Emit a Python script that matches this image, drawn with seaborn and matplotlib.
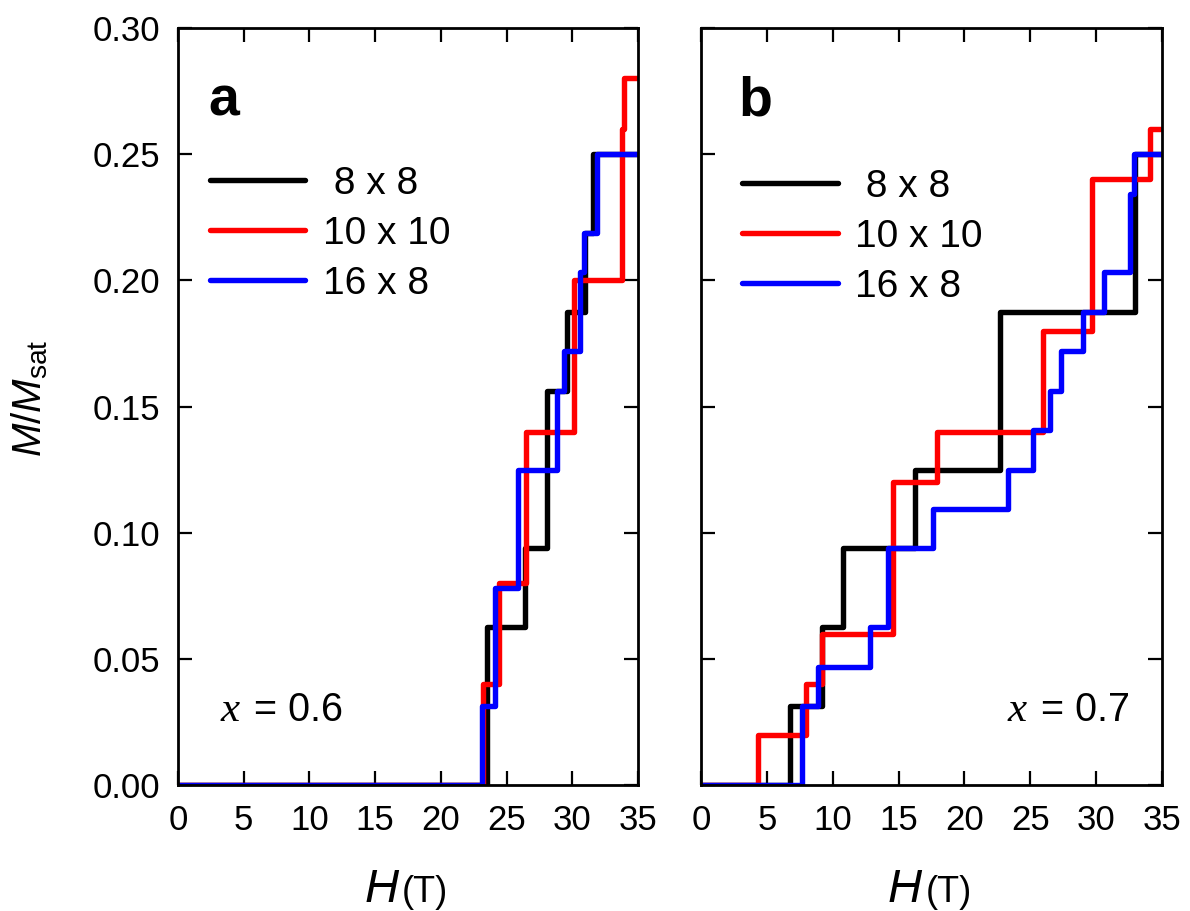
import numpy as np
import pandas as pd
import matplotlib
matplotlib.use("Agg")
import matplotlib.pyplot as plt
from matplotlib.ticker import FormatStrFormatter
import seaborn as sns

# ---------------- data ----------------
sizes = ["8 x 8", "10 x 10", "16 x 8"]
legend_labels = [" 8 x 8", "10 x 10", "16 x 8"]
colors = ["#000000", "#ff0000", "#0000ff"]

# panel a  (x = 0.6): field where each plateau begins, and its magnetisation
black_a_H = [0, 23.5, 26.4, 28.1, 29.6, 31.0, 31.6, 35]
black_a_M = [0, 0.0625, 0.09375, 0.15625, 0.1875, 0.21875, 0.25, 0.25]
red_a_H = [0, 23.2, 24.4, 26.5, 30.1, 33.76, 33.9, 35]
red_a_M = [0, 0.04, 0.08, 0.14, 0.20, 0.26, 0.28, 0.28]
blue_a_H = [0, 23.1, 24.1, 25.9, 28.8, 29.4, 30.6, 30.9, 31.9, 35]
blue_a_M = [0, 0.03125, 0.078125, 0.125, 0.15625, 0.171875, 0.203125, 0.21875, 0.25, 0.25]

# panel b  (x = 0.7)
black_b_H = [0, 6.75, 9.2, 10.75, 16.25, 22.7, 32.95, 35]
black_b_M = [0, 0.03125, 0.0625, 0.09375, 0.125, 0.1875, 0.25, 0.25]
red_b_H = [0, 4.35, 8.0, 9.2, 14.6, 17.9, 26.0, 29.7, 34.1, 35]
red_b_M = [0, 0.02, 0.04, 0.06, 0.12, 0.14, 0.18, 0.24, 0.26, 0.26]
blue_b_H = [0, 7.65, 8.9, 12.8, 14.2, 17.6, 23.3, 25.2, 26.5, 27.3, 29.0, 30.6, 32.6, 32.9, 35]
blue_b_M = [0, 0.03125, 0.046875, 0.0625, 0.09375, 0.109375, 0.125, 0.140625,
            0.15625, 0.171875, 0.1875, 0.203125, 0.234375, 0.25, 0.25]

x_ticks = [0, 5, 10, 15, 20, 25, 30, 35]
y_ticks = [0.00, 0.05, 0.10, 0.15, 0.20, 0.25, 0.30]
panel_labels = ["a", "b"]
x_values = ["0.6", "0.7"]


def long_frame(series):
    frames = []
    for name, (h, m) in zip(sizes, series):
        frames.append(pd.DataFrame({"H": h, "M": m, "size": name}))
    return pd.concat(frames, ignore_index=True)


df_a = long_frame([(black_a_H, black_a_M), (red_a_H, red_a_M), (blue_a_H, blue_a_M)])
df_b = long_frame([(black_b_H, black_b_M), (red_b_H, red_b_M), (blue_b_H, blue_b_M)])

# ---------------- style ----------------
sns.set_theme(style="ticks")
plt.rcParams["font.family"] = ["Liberation Sans", "DejaVu Sans"]
plt.rcParams["mathtext.fontset"] = "custom"
plt.rcParams["mathtext.rm"] = "Liberation Sans"
plt.rcParams["mathtext.it"] = "Liberation Sans:italic"
plt.rcParams["axes.linewidth"] = 2.0
plt.rcParams["text.color"] = "black"
plt.rcParams["xtick.color"] = "black"
plt.rcParams["ytick.color"] = "black"
plt.rcParams["xtick.labelcolor"] = "black"
plt.rcParams["ytick.labelcolor"] = "black"

fig = plt.figure(figsize=(11.9, 9.11), dpi=100)
ax_a = fig.add_axes([178 / 1190, 1 - 785 / 911, 460 / 1190, 757 / 911])
ax_b = fig.add_axes([701 / 1190, 1 - 785 / 911, 461 / 1190, 757 / 911])

palette = dict(zip(sizes, colors))

for ax, df, lab, xv, show_left in [(ax_a, df_a, "a", "0.6", True), (ax_b, df_b, "b", "0.7", False)]:
    sns.lineplot(data=df, x="H", y="M", hue="size", hue_order=sizes, palette=palette,
                 estimator=None, sort=False, drawstyle="steps-post", linewidth=3.9,
                 legend=False, ax=ax)
    ax.set_xlim(0, 35)
    ax.set_ylim(0, 0.30)
    ax.set_xticks(x_ticks)
    ax.set_yticks(y_ticks)
    ax.yaxis.set_major_formatter(FormatStrFormatter("%.2f"))
    ax.set_xlabel("")
    ax.set_ylabel("")
    for s in ax.spines.values():
        s.set_visible(True)
        s.set_linewidth(2.0)
        s.set_color("black")
    ax.tick_params(axis="both", direction="in", length=10, width=1.6, top=True, right=True,
                   labelsize=25, colors="black")
    ax.tick_params(axis="x", pad=14)
    ax.tick_params(axis="y", pad=13, labelleft=show_left)

    # legend
    handles = ax.get_lines()[:3]
    leg = ax.legend(handles, legend_labels, loc="upper left",
                    bbox_to_anchor=(0.07 if lab == "a" else 0.09, 0.818 if lab == "a" else 0.814),
                    frameon=False, fontsize=28, handlelength=2.45, handletextpad=0.45,
                    labelspacing=0.36, borderpad=0, borderaxespad=0)
    for ln in leg.get_lines():
        ln.set_linewidth(3.9)
    for t in leg.get_texts():
        t.set_color("black")

    # panel letter
    ax.text(0.065 if lab == "a" else 0.08, 0.884, lab, transform=ax.transAxes,
            fontsize=40, fontweight="bold", ha="left", va="baseline")

    # x = value
    x0 = 0.092 if lab == "a" else 0.664
    ax.text(x0, 0.085, "x", transform=ax.transAxes, fontsize=31,
            family="Liberation Serif", style="italic", ha="left", va="baseline")
    ax.text(x0 + 0.073, 0.085, "= " + xv, transform=ax.transAxes, fontsize=28.5,
            ha="left", va="baseline")

    # x-axis label  H (T)
    ax.text(0.405, -0.155, "H", transform=ax.transAxes, fontsize=34, style="italic",
            ha="left", va="baseline")
    ax.text(0.487, -0.155, "(T)", transform=ax.transAxes, fontsize=26,
            ha="left", va="baseline")

fig.text(30 / 1190, 1 - 398 / 911, r"$M/M_{\mathrm{sat}}$", rotation=90, fontsize=29,
         ha="center", va="center")

fig.savefig("out.png", dpi=100)
